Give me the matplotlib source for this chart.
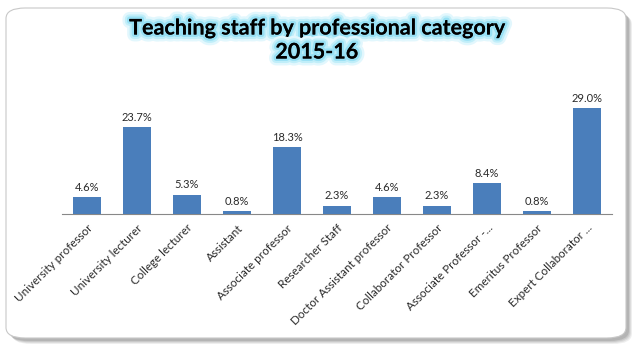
import numpy as np
import matplotlib
matplotlib.use("Agg")
import matplotlib.pyplot as plt
import matplotlib.patheffects as pe
from matplotlib.patches import FancyBboxPatch

categories = ["University professor", "University lecturer", "College lecturer",
              "Assistant", "Associate professor", "Researcher Staff",
              "Doctor Assistant professor", "Collaborator Professor",
              "Associate Professor -...", "Emeritus Professor",
              "Expert Collaborator ..."]
values = [4.6, 23.7, 5.3, 0.8, 18.3, 2.3, 4.6, 2.3, 8.4, 0.8, 29.0]

plt.rcParams['font.family'] = ['Lato', 'DejaVu Sans']

fig = plt.figure(figsize=(6.4, 3.5), dpi=100)
fig.patch.set_facecolor('white')

# shadow + rounded frame
for i, a in enumerate([0.10, 0.12, 0.15, 0.2]):
    off = 4 - i
    sh = FancyBboxPatch((8 / 640 + off / 640, 10 / 350 - off / 350), 620 / 640, 330 / 350,
                        boxstyle="round,pad=0,rounding_size=0.03",
                        transform=fig.transFigure, facecolor='#606060',
                        edgecolor='none', alpha=a, zorder=-2)
    fig.patches.append(sh)
frame = FancyBboxPatch((6 / 640, 12 / 350), 620 / 640, 330 / 350,
                       boxstyle="round,pad=0,rounding_size=0.03",
                       transform=fig.transFigure, facecolor='white',
                       edgecolor='#c8c8c8', linewidth=0.8, zorder=-1)
fig.patches.append(frame)

ax = fig.add_axes([62 / 640, 1 - 214 / 350, 550 / 640, 0.355])
ax.set_zorder(2)
ax.set_facecolor('none')
x = np.arange(len(categories))
bars = ax.bar(x, values, width=0.56, color='#4a7ebb', zorder=3)
ax.set_xlim(-0.5, len(categories) - 0.5)
ax.set_ylim(0, 34)

for xi, v in zip(x, values):
    ax.text(xi, v + 1.2, f"{v:.1f}%", ha='center', va='bottom',
            fontsize=8, color='#2a2a2a')

ax.set_xticks(x)
ax.set_xticklabels(categories, rotation=45, ha='right', rotation_mode='anchor',
                   fontsize=8.4, color='#2a2a2a')
ax.tick_params(axis='x', length=0, pad=6)
ax.set_yticks([])
for s in ['top', 'right', 'left']:
    ax.spines[s].set_visible(False)
ax.spines['bottom'].set_color('#888888')
ax.spines['bottom'].set_linewidth(0.8)

glow = [pe.withStroke(linewidth=10, foreground='#e2f7fd'),
        pe.withStroke(linewidth=6.5, foreground='#c0eef9'),
        pe.withStroke(linewidth=3.5, foreground='#98e0f4'),
        pe.Normal()]
fig.text(0.495, 1 - 28 / 350, "Teaching staff by professional category",
         ha='center', va='center', fontsize=15.5, fontweight='bold',
         color='black', path_effects=glow, zorder=3)
fig.text(0.495, 1 - 52 / 350, "2015-16", ha='center', va='center',
         fontsize=15.5, fontweight='bold', color='black', path_effects=glow,
         zorder=3)

fig.savefig("out.png", dpi=100)
